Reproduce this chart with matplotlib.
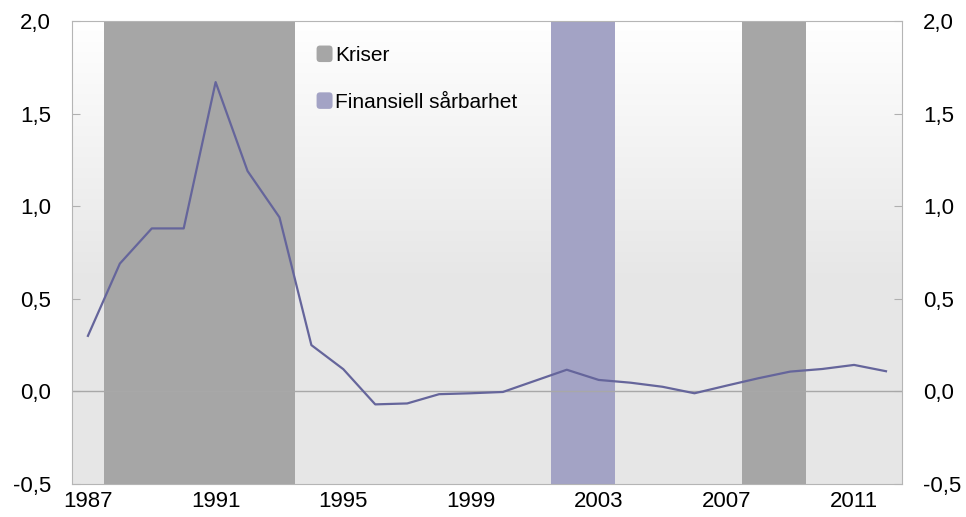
import numpy as np
import matplotlib.pyplot as plt
from matplotlib.patches import Patch, FancyBboxPatch
from matplotlib.legend_handler import HandlerPatch

plt.rcParams['font.family'] = ['Liberation Sans', 'DejaVu Sans']

# data
years = list(range(1987, 2013))
verdi = [0.30, 0.69, 0.88, 0.88, 1.67, 1.19, 0.94, 0.25, 0.12, -0.07,
         -0.065, -0.015, -0.01, -0.003, 0.057, 0.117, 0.062, 0.047, 0.025, -0.01,
         0.031, 0.071, 0.107, 0.121, 0.143, 0.109]
kriser = [(1987.5, 1993.5), (2007.5, 2009.5)]
saarbarhet = [(2001.5, 2003.5)]
xticks = [1987, 1991, 1995, 1999, 2003, 2007, 2011]
yticks = [-0.5, 0.0, 0.5, 1.0, 1.5, 2.0]

grey = '#a6a6a6'
purple = '#a3a3c5'
line_col = '#65659b'


class RundBoks(HandlerPatch):
    # avrundet firkant i legenden
    def create_artists(self, legend, orig_handle, xdescent, ydescent,
                       width, height, fontsize, trans):
        p = FancyBboxPatch((-xdescent + 1, -ydescent + 1), width - 2, height - 2,
                           boxstyle='round,pad=0,rounding_size=2.5',
                           facecolor=orig_handle.get_facecolor(),
                           edgecolor='none', transform=trans)
        return [p]


fig = plt.figure(figsize=(9.66, 5.17), dpi=100)
ax = fig.add_axes([0.0745, 0.0638, 0.8592, 0.8956])

x0, x1 = 1986.5, 2012.5
y0, y1 = -0.5, 2.0

# bakgrunn med gradient (hvit oppe, grå nede)
t = np.linspace(0, 1, 256)
g = np.clip(t / 0.55, 0, 1)
top = np.array([1.0, 1.0, 1.0])
bot = np.array([0.905, 0.905, 0.905])
cols = top[None, :] * (1 - g[:, None]) + bot[None, :] * g[:, None]
img = np.repeat(cols[:, None, :], 2, axis=1)
ax.imshow(img, extent=[x0, x1, y0, y1], aspect='auto', zorder=0, origin='upper')

for a, b in kriser:
    ax.axvspan(a, b, color=grey, lw=0, zorder=1)
for a, b in saarbarhet:
    ax.axvspan(a, b, color=purple, lw=0, zorder=1)

ax.axhline(0, color='#a8a8a8', lw=1, zorder=2)
ax.plot(years, verdi, color=line_col, lw=1.6, zorder=3)

ax.set_xlim(x0, x1)
ax.set_ylim(y0, y1)
ax.set_xticks(xticks)
ax.set_xticklabels([str(v) for v in xticks])
ax.set_yticks(yticks)
ax.set_yticklabels([('%.1f' % v).replace('.', ',') for v in yticks])

ax.tick_params(axis='x', length=0, labelsize=16, pad=5)
ax.tick_params(axis='y', direction='in', length=6, color='#b0b0b0',
               labelsize=16, right=True, labelright=True, pad=15)
for s in ax.spines.values():
    s.set_color('#b5b5b5')

handles = [Patch(facecolor=grey, edgecolor='none', label='Kriser'),
           Patch(facecolor=purple, edgecolor='none', label='Finansiell sårbarhet')]
leg = ax.legend(handles=handles, loc='upper left', bbox_to_anchor=(0.283, 0.968),
                frameon=False, fontsize=15, handlelength=0.9, handleheight=1.05,
                handletextpad=0.05, labelspacing=1.25, borderaxespad=0,
                handler_map={Patch: RundBoks()})

fig.savefig('out.png', dpi=100)
